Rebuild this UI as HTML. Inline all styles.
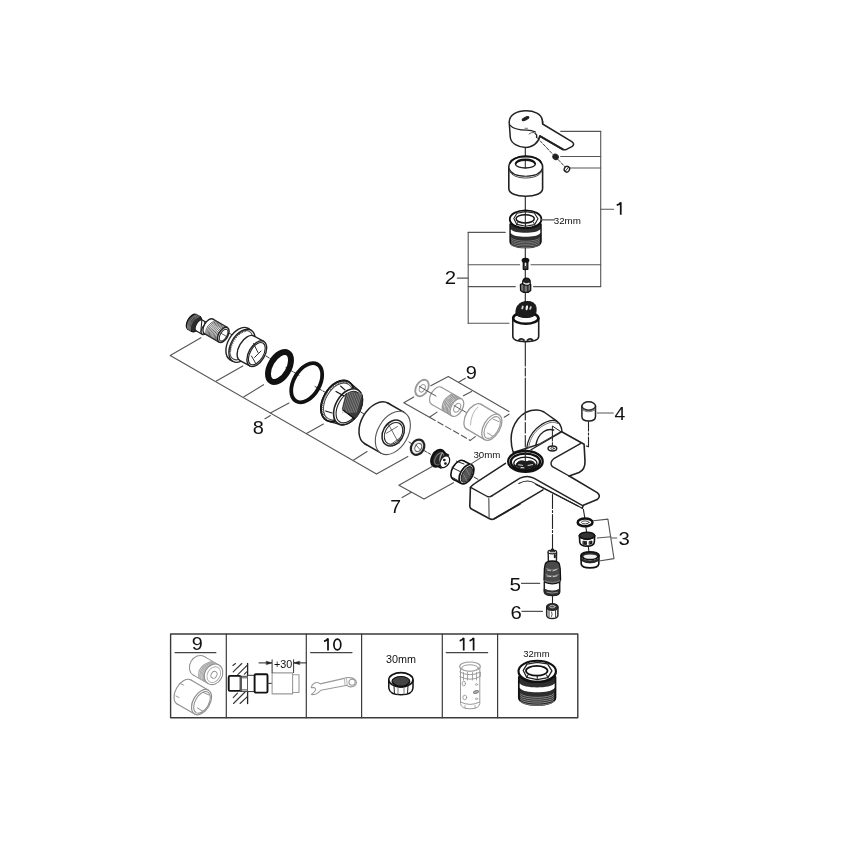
<!DOCTYPE html>
<html><head><meta charset="utf-8"><style>
html,body{margin:0;padding:0;background:#fff;}
svg{display:block;font-family:"Liberation Sans",sans-serif;will-change:transform;}
</style></head><body>
<svg width="868" height="868" viewBox="0 0 868 868" stroke-linecap="round" stroke-linejoin="round">
<rect width="868" height="868" fill="#fff"/>
<g id="table">
<path d="M170.6,634 L577.8,634 L577.8,717.7 L170.6,717.7 Z" stroke="#3a3a3a" stroke-width="1.4" fill="none" />
<line x1="226.3" y1="634" x2="226.3" y2="717.7" stroke="#3a3a3a" stroke-width="1.2" />
<line x1="306.3" y1="634" x2="306.3" y2="717.7" stroke="#3a3a3a" stroke-width="1.2" />
<line x1="361.6" y1="634" x2="361.6" y2="717.7" stroke="#3a3a3a" stroke-width="1.2" />
<line x1="442.3" y1="634" x2="442.3" y2="717.7" stroke="#3a3a3a" stroke-width="1.2" />
<line x1="497.6" y1="634" x2="497.6" y2="717.7" stroke="#3a3a3a" stroke-width="1.2" />
<text transform="translate(191.8,650) scale(1.1,1)" x="0" y="0" font-size="18" fill="#111" text-anchor="start" >9</text>
<line x1="175" y1="652.6" x2="215.9" y2="652.6" stroke="#444" stroke-width="1.2" />
<path d="M324.00,641.30 C326.00,640.70 327.40,639.60 328.00,638.40 L328.00,650.60" stroke="#111" stroke-width="1.75" fill="none" stroke-linecap="butt" stroke-linejoin="miter"/>
<ellipse cx="337.35" cy="644.5" rx="3.45" ry="5.45" stroke="#111" stroke-width="1.7" fill="none" />
<line x1="310.6" y1="652.6" x2="352" y2="652.6" stroke="#444" stroke-width="1.2" />
<path d="M459.70,640.80 C461.70,640.20 463.10,639.10 463.70,637.90 L463.70,650.40" stroke="#111" stroke-width="1.75" fill="none" stroke-linecap="butt" stroke-linejoin="miter"/>
<path d="M469.60,640.80 C471.60,640.20 473.00,639.10 473.60,637.90 L473.60,650.40" stroke="#111" stroke-width="1.75" fill="none" stroke-linecap="butt" stroke-linejoin="miter"/>
<line x1="446.2" y1="652.6" x2="487.7" y2="652.6" stroke="#444" stroke-width="1.2" />
<text x="385.9" y="663.4" font-size="10.8" fill="#111" text-anchor="start" >30mm</text>
<text x="523.3" y="656.5" font-size="9.5" fill="#111" text-anchor="start" >32mm</text>
</g>
<g id="lead12">
<line x1="560.7" y1="131.4" x2="600.7" y2="131.4" stroke="#555" stroke-width="1.1" />
<line x1="560.7" y1="156.5" x2="600.7" y2="156.5" stroke="#555" stroke-width="1.1" />
<line x1="569.5" y1="168" x2="600.7" y2="168" stroke="#555" stroke-width="1.1" />
<line x1="531" y1="264.7" x2="600.7" y2="264.7" stroke="#555" stroke-width="1.1" />
<line x1="533.5" y1="286.6" x2="600.7" y2="286.6" stroke="#555" stroke-width="1.1" />
<line x1="600.7" y1="131.4" x2="600.7" y2="286.6" stroke="#555" stroke-width="1.1" />
<line x1="600.7" y1="209.2" x2="613.5" y2="209.2" stroke="#555" stroke-width="1.1" />
<path d="M616.75,205.20 C618.75,204.60 620.15,203.50 620.75,202.30 L620.75,214.80" stroke="#111" stroke-width="1.75" fill="none" stroke-linecap="butt" stroke-linejoin="miter"/>
<line x1="468.2" y1="232.4" x2="468.2" y2="323.3" stroke="#555" stroke-width="1.1" />
<line x1="468.2" y1="232.4" x2="505.2" y2="232.4" stroke="#555" stroke-width="1.1" />
<line x1="468.2" y1="264.7" x2="519.6" y2="264.7" stroke="#555" stroke-width="1.1" />
<line x1="468.2" y1="286.6" x2="515.3" y2="286.6" stroke="#555" stroke-width="1.1" />
<line x1="468.2" y1="323.3" x2="509" y2="323.3" stroke="#555" stroke-width="1.1" />
<line x1="457.3" y1="278.1" x2="468.2" y2="278.1" stroke="#555" stroke-width="1.1" />
<text transform="translate(444.8,284) scale(1.1,1)" x="0" y="0" font-size="18.5" fill="#111" text-anchor="start" >2</text>
</g>
<line x1="525.3" y1="147.5" x2="525.3" y2="156" stroke="#222" stroke-width="1.1" />
<line x1="525.3" y1="196" x2="525.3" y2="210.5" stroke="#222" stroke-width="1.1" />
<line x1="525.3" y1="247" x2="525.3" y2="258.5" stroke="#222" stroke-width="1.1" />
<line x1="525.3" y1="270.3" x2="525.3" y2="278" stroke="#222" stroke-width="1.1" />
<line x1="525.3" y1="292.3" x2="525.3" y2="302" stroke="#222" stroke-width="1.1" />
<line x1="525.3" y1="341.5" x2="525.3" y2="366" stroke="#222" stroke-width="1.1" />
<line x1="525.3" y1="368" x2="525.3" y2="376" stroke="#222" stroke-width="1.1" />
<line x1="525.3" y1="378" x2="525.3" y2="459" stroke="#222" stroke-width="1.1" />
<g id="handle">
<path d="M509.2,122 C509.5,114.5 517,110.8 526,110.8 C534.5,110.8 541,114 542.2,119.5 L542.6,124 L571.8,141.6 Q575.2,144 572.3,146.4 L566.5,149.4 Q564.5,150.4 562,149 L539.8,136 C538.5,142.5 533,147.4 525.5,147.4 C518,147.4 511.2,143.5 510.3,137.5 Z" stroke="#222" stroke-width="1.5" fill="#fff" />
<path d="M509.6,124.8 C512.5,128.3 519,130 527,130.2 C530.5,130.4 533,131 535.5,132" stroke="#222" stroke-width="1.3" fill="none" />
<path d="M542.2,119.5 Q543.5,122 542.6,124" stroke="#222" stroke-width="1.2" fill="none" />
<ellipse cx="525.5" cy="118.6" rx="3.6" ry="1.3" stroke="#222" stroke-width="1.2" fill="#222" transform="rotate(-25 525.5 118.6)" />
<line x1="525" y1="128.3" x2="527.5" y2="128.3" stroke="#666" stroke-width="0.9" />
<line x1="540" y1="136.2" x2="562.5" y2="149.2" stroke="#222" stroke-width="2" />
<path d="M535,133.5 Q537.5,134.5 536.5,137.5" stroke="#222" stroke-width="1.3" fill="none" />
<path d="M529,134 Q531,132 534,132.5" stroke="#555" stroke-width="0.9" fill="none" />
</g>
<line x1="537" y1="137.5" x2="553" y2="154.5" stroke="#222" stroke-width="0.9" stroke-dasharray="3 1.6"/>
<line x1="558" y1="159.5" x2="565" y2="166.8" stroke="#222" stroke-width="0.9" stroke-dasharray="3 1.6"/>
<ellipse cx="555.6" cy="156.9" rx="2.9" ry="2.5" stroke="#222" stroke-width="1" fill="#222" transform="rotate(40 555.6 156.9)" />
<ellipse cx="566.9" cy="169.2" rx="2.6" ry="2.9" stroke="#222" stroke-width="1.4" fill="#fff" transform="rotate(30 566.9 169.2)" />
<line x1="565.5" y1="171" x2="568.3" y2="167.4" stroke="#222" stroke-width="0.9" />
<g id="sleeve">
<path d="M508.8,167 C508.8,160.9 516.4,156 525.7,156 C535,156 542.6,160.9 542.6,167 L542.6,188.5 C542.6,193.5 535,196.2 525.7,196.2 C516.4,196.2 508.8,193.5 508.8,188.5 Z" stroke="#222" stroke-width="1.6" fill="#fff" />
<path d="M509,168.5 C510.8,173.8 517.5,176.2 525.7,176.2 C533.9,176.2 540.6,173.8 542.4,168.5" stroke="#222" stroke-width="1.1" fill="none" />
<path d="M509.3,170.6 C511.2,175.6 517.8,178 525.7,178 C533.6,178 540.2,175.6 542.1,170.6" stroke="#444" stroke-width="1" fill="none" />
<ellipse cx="525.4" cy="164.2" rx="9.9" ry="3.8" stroke="#222" stroke-width="1.4" fill="none" />
<line x1="525.3" y1="159.5" x2="525.3" y2="168" stroke="#222" stroke-width="1" />
<path d="M515.7,163.6 C516.5,160.6 520.5,159.3 525.4,159.3 C530.3,159.3 534.3,160.6 535.1,163.6" stroke="#111" stroke-width="1.8" fill="none" />
<path d="M510,163 C512,158.5 518,156.6 525.7,156.6 C533.4,156.6 539.4,158.5 541.4,163" stroke="#111" stroke-width="1.6" fill="none" />
</g>
<g >
<path d="M510.1,224 L510.1,241.5 C510.3,245.5 517,247.6 525.5,247.6 C534,247.6 540.8,245.5 541,241.5 L541,224 Z" stroke="#111" stroke-width="1.5" fill="#2e2e2e" />
<path d="M510.8,229.3 C512.5,231.8 518.5,232.8 525.5,232.8 C532.5,232.8 538.5,231.8 540.3,229.3 L540.3,233 C538.5,235.8 532.5,236.8 525.5,236.8 C518.5,236.8 512.5,235.8 510.8,233 Z" stroke="none" stroke-width="0" fill="#fff" />
<path d="M511.5,238.3 C515,242.3 536,242.3 539.5,238.3" stroke="#999" stroke-width="0.7" fill="none" />
<path d="M511.5,239.9 C515,243.9 536,243.9 539.5,239.9" stroke="#999" stroke-width="0.7" fill="none" />
<path d="M511.5,241.5 C515,245.5 536,245.5 539.5,241.5" stroke="#999" stroke-width="0.7" fill="none" />
<path d="M511.5,243.1 C515,247.1 536,247.1 539.5,243.1" stroke="#999" stroke-width="0.7" fill="none" />
<path d="M511.5,244.7 C515,248.7 536,248.7 539.5,244.7" stroke="#999" stroke-width="0.7" fill="none" />
<ellipse cx="525.6" cy="219.2" rx="15.8" ry="8.9" stroke="#111" stroke-width="1.8" fill="#fff" />
<path d="M510,221 C511.5,226 518,228.4 525.6,228.4 C533.2,228.4 539.6,226 541.2,221" stroke="#111" stroke-width="1.3" fill="none" />
<path d="M513.8,218.5 L517,213.2 L525.5,211.6 L534.3,213 L538,218.8 L534.6,224.6 L525.6,226.3 L516.8,224.4 Z" stroke="#222" stroke-width="1.1" fill="#fff" />
<path d="M516.8,224.4 L518,222 M534.6,224.6 L533.5,222.3 M525.6,226.3 L525.6,223.2" stroke="#222" stroke-width="0.9" fill="none" />
<ellipse cx="525.2" cy="218.8" rx="9.1" ry="4.1" stroke="#111" stroke-width="1.5" fill="#fff" />
<line x1="525.3" y1="211" x2="525.3" y2="227" stroke="#222" stroke-width="1" />
</g>
<line x1="541.2" y1="219.9" x2="554.3" y2="219.9" stroke="#555" stroke-width="1.1" />
<text x="553.7" y="223.9" font-size="9.8" fill="#111" text-anchor="start" >32mm</text>
<g id="screw">
<ellipse cx="525.5" cy="260.3" rx="3.3" ry="2" stroke="#111" stroke-width="1.2" fill="#111" />
<path d="M523.3,262 L523.3,269.3 L527.8,269.3 L527.8,262 Z" stroke="#111" stroke-width="1.3" fill="#444" />
<path d="M525.5,263 L525.5,265.5" stroke="#eee" stroke-width="1.2" fill="none" />
</g>
<g id="hexnut">
<path d="M520.4,284.5 L520.6,290.5 L523.5,292.4 L528,292.4 L530.7,290.5 L530.7,284.5 L527.5,283 L523.5,283 Z" stroke="#111" stroke-width="1.3" fill="#777" />
<line x1="524" y1="284" x2="524" y2="292" stroke="#222" stroke-width="1.2" />
<line x1="527.8" y1="284" x2="527.8" y2="292" stroke="#222" stroke-width="1.2" />
<path d="M522.6,284 L522.8,281 Q523.5,278 526.5,278 Q529.5,278.2 530.2,281 L530.2,284 Q526.5,286.5 522.6,284 Z" stroke="#111" stroke-width="1.2" fill="#222" />
<path d="M523.8,283 Q526.5,285 529,283.3" stroke="#eee" stroke-width="1.4" fill="none" />
</g>
<g id="cartridge">
<path d="M512.8,318 L512.8,336.5 C513,340 519,341.6 525.75,341.6 C532.5,341.6 538.5,340 538.7,336.5 L538.7,318 Z" stroke="#222" stroke-width="1.6" fill="#fff" />
<ellipse cx="525.75" cy="318.2" rx="12.6" ry="5.6" stroke="#111" stroke-width="2.6" fill="#fff" />
<path d="M516,314.5 C515.5,309 517,304.5 522,302.5 C526,301 531,301 534,303.5 C536.5,305.5 536.5,310 535.5,314.5 C532,318.5 520,318.8 516,314.5 Z" stroke="#111" stroke-width="1" fill="#1c1c1c" />
<ellipse cx="522.5" cy="307.5" rx="1" ry="2" stroke="none" stroke-width="0" fill="#ddd" transform="rotate(15 522.5 307.5)" />
<ellipse cx="526.8" cy="307.8" rx="1.2" ry="2.6" stroke="none" stroke-width="0" fill="#eee" transform="rotate(10 526.8 307.8)" />
<ellipse cx="530.5" cy="308" rx="0.9" ry="2" stroke="none" stroke-width="0" fill="#ccc" transform="rotate(25 530.5 308)" />
<path d="M516.5,317 Q519,320 522,319.5" stroke="#eee" stroke-width="1.3" fill="none" />
<path d="M519,340 Q521.5,337.5 524,340.2 M527.5,340.2 Q530,337.5 532.5,340" stroke="#222" stroke-width="1.8" fill="none" />
</g>
<g id="body">
<path d="M513.2,452.4 C509.5,440 511,428 518,419 C524,411.5 531,409.8 537,410 C540,410.2 542,410.8 544,412 L556.5,420.8 C560,423.5 561.8,427 561.9,431.5 L540,444 Z" stroke="#222" stroke-width="1.5" fill="#fff" />
<path d="M505.5,463.4 L471.2,486.6 L471.2,487 L470.3,506.3 Q470.5,510 473,511 L491.8,519.2 L543,489.8 L552,494 L583.3,505.3 L597.2,499.6 Q601,496.5 597.2,492.6 L569.2,476 Q578,473 584,469 Q585.2,466 585,461 L584.1,444.3 L561.7,431.7 Z" stroke="none" stroke-width="0" fill="#fff" />
<path d="M526.7,448.7 C527.5,441 530.5,434 536.5,428.5 C540.5,424.8 545,422 549.5,420.8 C552.5,420 555.5,420.5 557.4,421.7" stroke="#222" stroke-width="1.2" fill="none" />
<path d="M528.6,448.2 C529.4,441 532.3,434.6 538,429.5 C541.8,426 546,423.6 550,422.6 C553,421.9 555.6,422.4 557.6,423.5" stroke="#666" stroke-width="0.9" fill="none" />
<path d="M535.7,445.7 C536.5,440.5 539,435 543.5,431.8 C546.5,429.7 550,428.8 553.7,430" stroke="#222" stroke-width="1.4" fill="none" />
<line x1="525.3" y1="414" x2="525.3" y2="420" stroke="#222" stroke-width="1.1" />
<line x1="525.3" y1="422.5" x2="525.3" y2="433" stroke="#222" stroke-width="1.1" />
<line x1="525.3" y1="435.5" x2="525.3" y2="447" stroke="#222" stroke-width="1.1" />
<line x1="531" y1="449.8" x2="561.2" y2="432.2" stroke="#222" stroke-width="1.3" />
<path d="M561.7,431.7 L584.1,444.3 L585,461.5 Q585.3,469.5 579,472.5 L569.2,476" stroke="#222" stroke-width="1.6" fill="none" />
<path d="M580.4,443.6 L554.3,458.3 Q548.8,462.5 552.4,466.7 L569.2,476" stroke="#222" stroke-width="1.4" fill="none" />
<path d="M552.4,436 L552.4,426 L560.8,431.7" stroke="#222" stroke-width="1" fill="none" />
<line x1="552.4" y1="437" x2="552.4" y2="446" stroke="#222" stroke-width="1" stroke-dasharray="4 1.6"/>
<ellipse cx="552.4" cy="448.5" rx="4.3" ry="2.4" stroke="#222" stroke-width="1.5" fill="#fff" />
<ellipse cx="552.4" cy="448.5" rx="1.8" ry="0.9" stroke="#222" stroke-width="0.8" fill="none" />
<path d="M505.5,463.4 L477.5,481.6 Q471.5,485.5 470.4,487.5" stroke="#222" stroke-width="1.5" fill="none" />
<path d="M470.4,487.5 L469.8,506.4 Q470,508.5 472,509.2 L489.6,518.8 Q491.8,520 494.2,518.8 L520,504" stroke="#222" stroke-width="1.6" fill="none" />
<path d="M470.6,487.4 L487.3,496.5 Q489.8,497.6 492.2,495.6" stroke="#222" stroke-width="1.4" fill="none" />
<line x1="488.8" y1="498.5" x2="489.1" y2="517.8" stroke="#555" stroke-width="1.2" />
<line x1="494.2" y1="518.8" x2="543" y2="489.8" stroke="#222" stroke-width="1.5" />
<path d="M492.2,495.6 L520,478.2 Q527,474.8 533.8,478.2 L582.2,505.3" stroke="#222" stroke-width="1.5" fill="none" />
<path d="M518.8,483.4 Q528,478.5 535,483.4 L582.2,508.2" stroke="#222" stroke-width="1.1" fill="none" />
<line x1="536" y1="484.5" x2="578" y2="506" stroke="#222" stroke-width="1.2" />
<path d="M569.2,476 L597.2,492.6 Q601.5,496 597.2,499.6 L583.3,505.3 L582.2,508.2" stroke="#222" stroke-width="1.6" fill="none" />
<ellipse cx="525.4" cy="461.4" rx="17.3" ry="10.4" stroke="#111" stroke-width="2.3" fill="#fff" />
<ellipse cx="525.4" cy="462" rx="14.6" ry="8.4" stroke="#111" stroke-width="2.4" fill="#fff" />
<ellipse cx="525.4" cy="463.3" rx="11.6" ry="6.2" stroke="#111" stroke-width="1.2" fill="#fff" />
<path d="M516,465.5 C516.5,461.5 520,460.5 523.5,461 C525,462 527,462 528.5,461 C532,460.5 535,462 535.5,465.5 C534,469.5 518,469.5 516,465.5 Z" stroke="#111" stroke-width="1" fill="#1e1e1e" />
<path d="M518.5,464.8 L522.5,465.3 M528,465.5 L532.5,464.6 M521,467.5 L524,467.8" stroke="#ddd" stroke-width="1" fill="none" />
<line x1="525.3" y1="450" x2="525.3" y2="466" stroke="#222" stroke-width="1.1" />
</g>
<g id="item4">
<path d="M581.9,406 L581.9,416.5 Q582,421 588.7,421 Q595.5,421 595.5,416.5 L595.5,406 Z" stroke="#222" stroke-width="1.5" fill="#fff" />
<ellipse cx="588.7" cy="406" rx="6.8" ry="4.2" stroke="#222" stroke-width="1.5" fill="#fff" />
<path d="M582.2,408.5 Q588.7,413 595.2,408.5 M582.3,409.8 Q588.7,414 595.1,409.8" stroke="#555" stroke-width="0.8" fill="none" />
</g>
<line x1="597.3" y1="413" x2="613.2" y2="413" stroke="#555" stroke-width="1.1" />
<text transform="translate(614.5,420) scale(1.05,1)" x="0" y="0" font-size="18.5" fill="#111" text-anchor="start" >4</text>
<line x1="588.5" y1="421.5" x2="588.5" y2="431" stroke="#222" stroke-width="1.1" />
<line x1="588.5" y1="433" x2="588.5" y2="435" stroke="#222" stroke-width="1.1" />
<line x1="588.5" y1="437" x2="588.5" y2="446.6" stroke="#222" stroke-width="1.1" />
<line x1="588.5" y1="446.6" x2="586.3" y2="446" stroke="#222" stroke-width="1.1" />
<line x1="583.4" y1="509.4" x2="584.8" y2="518" stroke="#222" stroke-width="1.1" />
<line x1="585.8" y1="526.4" x2="586.6" y2="532.3" stroke="#222" stroke-width="1.1" />
<line x1="588.2" y1="545.8" x2="589" y2="552.3" stroke="#222" stroke-width="1.1" />
<g id="item3">
<ellipse cx="585.1" cy="522.4" rx="7.4" ry="3.8" stroke="#111" stroke-width="2.5" fill="#fff" />
<ellipse cx="585.2" cy="522.4" rx="3.8" ry="1.5" stroke="#444" stroke-width="1" fill="#fff" />
<path d="M579.4,535.5 L579.8,542.3 Q580.5,546.1 587.1,546.1 Q593.8,546.1 594.3,542.3 L594.7,535.5 Z" stroke="#111" stroke-width="1.6" fill="#fff" />
<ellipse cx="587" cy="535.7" rx="7.7" ry="3.4" stroke="#111" stroke-width="1.6" fill="#333" />
<path d="M580.5,537.5 Q587,541.5 593.6,537.5" stroke="#111" stroke-width="1.3" fill="none" />
<path d="M583.3,541.2 L586.5,541.6 L586.5,544.6 L583.3,544.2 Z M589.5,541.5 L592,541 L592,543.8 L589.5,544.3 Z" stroke="#111" stroke-width="0.8" fill="#222" />
<path d="M581,555.5 L581.2,564 Q582,567.9 590,567.9 Q598,567.9 598.8,564 L599,555.5 Z" stroke="#111" stroke-width="1.6" fill="#fff" />
<ellipse cx="590" cy="555.6" rx="9" ry="3.8" stroke="#111" stroke-width="1.8" fill="#2e2e2e" />
<ellipse cx="590.2" cy="556.6" rx="6.8" ry="2.2" stroke="none" stroke-width="0" fill="#eee" />
<path d="M581.2,558.5 Q590,563.5 598.8,558.5 L598.8,560.5 Q590,565.5 581.2,560.5 Z" stroke="#111" stroke-width="0.8" fill="#2e2e2e" />
</g>
<path d="M593.4,520.7 L607.9,519.1 L614,558.6 L599,561" stroke="#555" stroke-width="1.1" fill="none" />
<line x1="597.4" y1="538" x2="610.8" y2="536.8" stroke="#555" stroke-width="1.1" />
<line x1="611.5" y1="538" x2="616.8" y2="538" stroke="#555" stroke-width="1.1" />
<text transform="translate(618.6,544.5) scale(1.1,1)" x="0" y="0" font-size="18.5" fill="#111" text-anchor="start" >3</text>
<line x1="552.5" y1="494.5" x2="552.5" y2="548.4" stroke="#222" stroke-width="1.1" stroke-dasharray="14 2 2 2"/>
<g id="item5">
<path d="M548.2,552.5 L548.4,563 L556.4,563 L556.6,552.5 Z" stroke="#222" stroke-width="1.4" fill="#fff" />
<ellipse cx="552.3" cy="552" rx="4.3" ry="1.8" stroke="#222" stroke-width="1.2" fill="#fff" />
<path d="M550.2,551.5 L552.5,548 L554.7,551.5 Z" stroke="#222" stroke-width="1" fill="#222" />
<line x1="554.8" y1="555" x2="554.8" y2="557.2" stroke="#222" stroke-width="2" />
<path d="M544.3,582 L544.3,592 Q545,595.5 552.3,595.5 Q559.6,595.5 559.7,592 L559.7,582 Z" stroke="#222" stroke-width="1.5" fill="#fff" />
<path d="M545,565 Q545.5,561 552.3,561 Q559.1,561 559.6,565 L560.2,568.5 L560.6,580 Q560,583.8 552.3,583.8 Q544.6,583.8 544,580 L544.4,568.5 Z" stroke="#111" stroke-width="1.3" fill="#4a4a4a" />
<path d="M546.5,568.5 Q552.3,571 558,568.5 M546,574.5 Q552.3,577.2 558.6,574.5" stroke="#777" stroke-width="1.1" fill="none" />
<path d="M547.5,570 L550.5,570.6 M553,570.8 L556.5,569.6 M547,576 L551,576.6 M553.2,576.7 L557,575.8" stroke="#ccc" stroke-width="1" fill="none" />
<path d="M544.6,580.8 Q552.3,584 560,580.8" stroke="#888" stroke-width="0.9" fill="none" />
<path d="M544.5,589.3 Q552.3,593 559.5,589.3 L559.5,592 Q559,595.5 552.3,595.5 Q545.5,595.5 544.5,592 Z" stroke="#222" stroke-width="1" fill="#333" />
<path d="M547,592.3 Q552.3,594 557.5,592.3" stroke="#aaa" stroke-width="0.8" fill="none" />
</g>
<line x1="552.5" y1="596" x2="552.5" y2="603.5" stroke="#222" stroke-width="1.1" />
<line x1="521.5" y1="583.4" x2="539.7" y2="583.4" stroke="#555" stroke-width="1.1" />
<text transform="translate(509.6,590.8) scale(1.12,1)" x="0" y="0" font-size="18.5" fill="#111" text-anchor="start" >5</text>
<g id="item6">
<path d="M546.7,607 L546.7,615.5 Q547,618.5 552.3,618.5 Q557.6,618.5 557.9,615.5 L557.9,607 Z" stroke="#222" stroke-width="1.5" fill="#fff" />
<ellipse cx="552.3" cy="607" rx="5.6" ry="3.3" stroke="#222" stroke-width="1.5" fill="#333" />
<ellipse cx="552.3" cy="606.6" rx="2.8" ry="1.3" stroke="#ccc" stroke-width="0.8" fill="#555" />
<line x1="549" y1="609.5" x2="549" y2="617" stroke="#222" stroke-width="0.9" />
<line x1="555.6" y1="609.5" x2="555.6" y2="617" stroke="#222" stroke-width="0.9" />
<path d="M551.6,612 Q552.8,614.5 551.6,616.5" stroke="#222" stroke-width="0.8" fill="none" />
</g>
<line x1="521.9" y1="611.4" x2="542.5" y2="611.4" stroke="#555" stroke-width="1.1" />
<text transform="translate(510.6,619) scale(1.1,1)" x="0" y="0" font-size="18.5" fill="#111" text-anchor="start" >6</text>
<g id="lead8">
<path d="M200.9,337.7 L170.2,355.4 L376.5,474.1 L407.9,456.5" stroke="#555" stroke-width="1.1" fill="none" />
<line x1="216.4" y1="381" x2="242.8" y2="365.9" stroke="#555" stroke-width="1.1" />
<line x1="244" y1="396.7" x2="263.5" y2="384.7" stroke="#555" stroke-width="1.1" />
<line x1="270.4" y1="413" x2="289" y2="403" stroke="#555" stroke-width="1.1" />
<line x1="306.5" y1="433.6" x2="323.4" y2="424.1" stroke="#555" stroke-width="1.1" />
<line x1="353.3" y1="460.3" x2="367.1" y2="451.5" stroke="#555" stroke-width="1.1" />
<line x1="265" y1="418.8" x2="270.4" y2="415.5" stroke="#555" stroke-width="1.1" />
<text transform="translate(252.7,433.6) scale(1.08,1)" x="0" y="0" font-size="18.5" fill="#111" text-anchor="start" >8</text>
</g>
<line x1="229" y1="333" x2="248" y2="344" stroke="#222" stroke-width="0.9" />
<line x1="266" y1="356" x2="273" y2="360.3" stroke="#222" stroke-width="0.9" stroke-dasharray="3 1.5"/>
<line x1="286" y1="367.7" x2="299" y2="375.2" stroke="#222" stroke-width="0.9" stroke-dasharray="3 1.5"/>
<line x1="315" y1="386.5" x2="330" y2="395" stroke="#222" stroke-width="0.9" stroke-dasharray="3 1.5"/>
<line x1="356" y1="409" x2="364" y2="414" stroke="#222" stroke-width="0.9" />
<line x1="409" y1="442" x2="412.5" y2="444.3" stroke="#222" stroke-width="0.9" />
<line x1="424" y1="450.5" x2="431" y2="454.5" stroke="#222" stroke-width="0.9" stroke-dasharray="3 1.5"/>
<line x1="474" y1="477" x2="478" y2="479.3" stroke="#222" stroke-width="0.9" />
<g id="item8">
<ellipse cx="192" cy="321.8" rx="4.5" ry="8.5" stroke="#111" stroke-width="1.2" fill="#2e2e2e" transform="rotate(30 192 321.8)" />
<path d="M196.25,314.44 L200.25,316.74 L191.75,331.46 L187.75,329.16 Z" stroke="none" stroke-width="0" fill="#2e2e2e" />
<line x1="196.25" y1="314.44" x2="200.25" y2="316.74" stroke="#111" stroke-width="1.2" />
<line x1="187.75" y1="329.16" x2="191.75" y2="331.46" stroke="#111" stroke-width="1.2" />
<ellipse cx="196" cy="324.1" rx="4.5" ry="8.5" stroke="#111" stroke-width="1.2" fill="#2e2e2e" transform="rotate(30 196 324.1)" />
<path d="M196.4,314.6 Q186.8,318.7 187.2,328.8" stroke="#999" stroke-width="0.7" fill="none" />
<path d="M197.4,315.1 Q187.8,319.3 188.2,329.4" stroke="#999" stroke-width="0.7" fill="none" />
<path d="M198.4,315.7 Q188.8,319.8 189.2,330.0" stroke="#999" stroke-width="0.7" fill="none" />
<path d="M199.4,316.3 Q189.8,320.4 190.2,330.6" stroke="#999" stroke-width="0.7" fill="none" />
<ellipse cx="199.5" cy="325.6" rx="3.4" ry="6.2" stroke="#222" stroke-width="1.2" fill="#fff" transform="rotate(30 199.5 325.6)" />
<path d="M202.57,320.22 L208.57,323.62 L202.43,334.38 L196.43,330.98 Z" stroke="none" stroke-width="0" fill="#fff" />
<line x1="202.57" y1="320.22" x2="208.57" y2="323.62" stroke="#222" stroke-width="1.2" />
<line x1="196.43" y1="330.98" x2="202.43" y2="334.38" stroke="#222" stroke-width="1.2" />
<ellipse cx="205.5" cy="329" rx="3.4" ry="6.2" stroke="#222" stroke-width="1.2" fill="#fff" transform="rotate(30 205.5 329)" />
<path d="M201.8,320.5 L200.8,332 M204.8,322 L203.8,333.5" stroke="#222" stroke-width="1.1" fill="none" />
<ellipse cx="208.7" cy="326.4" rx="4.6" ry="8.4" stroke="#222" stroke-width="1.3" fill="#fff" transform="rotate(30 208.7 326.4)" />
<path d="M212.9,319.13 L227.5,327.53 L219.1,342.07 L204.5,333.67 Z" stroke="none" stroke-width="0" fill="#fff" />
<line x1="212.9" y1="319.13" x2="227.5" y2="327.53" stroke="#222" stroke-width="1.3" />
<line x1="204.5" y1="333.67" x2="219.1" y2="342.07" stroke="#222" stroke-width="1.3" />
<path d="M215.3,320.7 Q205.0,324.5 205.7,334.3" stroke="#444" stroke-width="0.8" fill="none" />
<path d="M216.5,321.4 Q206.2,325.2 206.9,335.0" stroke="#444" stroke-width="0.8" fill="none" />
<path d="M217.7,322.1 Q207.4,325.9 208.1,335.6" stroke="#444" stroke-width="0.8" fill="none" />
<path d="M218.9,322.8 Q208.6,326.6 209.3,336.3" stroke="#444" stroke-width="0.8" fill="none" />
<path d="M220.1,323.5 Q209.8,327.3 210.5,337.0" stroke="#444" stroke-width="0.8" fill="none" />
<path d="M221.3,324.2 Q211.0,327.9 211.7,337.7" stroke="#444" stroke-width="0.8" fill="none" />
<path d="M222.5,324.9 Q212.2,328.6 212.9,338.4" stroke="#444" stroke-width="0.8" fill="none" />
<path d="M223.7,325.6 Q213.4,329.3 214.1,339.1" stroke="#444" stroke-width="0.8" fill="none" />
<path d="M224.9,326.3 Q214.6,330.0 215.3,339.8" stroke="#444" stroke-width="0.8" fill="none" />
<path d="M226.1,326.9 Q215.8,330.7 216.5,340.5" stroke="#444" stroke-width="0.8" fill="none" />
<ellipse cx="223.3" cy="334.8" rx="4.6" ry="8.4" stroke="#222" stroke-width="1.5" fill="#fff" transform="rotate(30 223.3 334.8)" />
<ellipse cx="223.6" cy="335.1" rx="3.3" ry="6.6" stroke="#222" stroke-width="1" fill="#fff" transform="rotate(30 223.6 335.1)" />
<line x1="220.8" y1="333" x2="226.5" y2="336.5" stroke="#333" stroke-width="0.8" />
<ellipse cx="239" cy="344" rx="11" ry="18" stroke="#222" stroke-width="1.4" fill="#fff" transform="rotate(30 239 344)" />
<path d="M248.08,328.46 L251.08,330.26 L232.92,361.34 L229.92,359.54 Z" stroke="none" stroke-width="0" fill="#fff" />
<line x1="248.08" y1="328.46" x2="251.08" y2="330.26" stroke="#222" stroke-width="1.4" />
<line x1="229.92" y1="359.54" x2="232.92" y2="361.34" stroke="#222" stroke-width="1.4" />
<ellipse cx="242" cy="345.8" rx="11" ry="18" stroke="#222" stroke-width="1.4" fill="#fff" transform="rotate(30 242 345.8)" />
<ellipse cx="241.3" cy="345.2" rx="9.4" ry="16" stroke="#444" stroke-width="1" fill="none" transform="rotate(30 241.3 345.2)" />
<line x1="228.92" y1="351.61" x2="230.82" y2="351.07" stroke="#333" stroke-width="0.8" />
<line x1="229.15" y1="349.4" x2="231.06" y2="349.15" stroke="#333" stroke-width="0.8" />
<line x1="229.64" y1="347.12" x2="231.51" y2="347.16" stroke="#333" stroke-width="0.8" />
<line x1="230.36" y1="344.81" x2="232.16" y2="345.15" stroke="#333" stroke-width="0.8" />
<line x1="231.31" y1="342.52" x2="233.01" y2="343.15" stroke="#333" stroke-width="0.8" />
<line x1="232.47" y1="340.3" x2="234.03" y2="341.2" stroke="#333" stroke-width="0.8" />
<line x1="233.82" y1="338.18" x2="235.21" y2="339.34" stroke="#333" stroke-width="0.8" />
<line x1="235.32" y1="336.22" x2="236.52" y2="337.61" stroke="#333" stroke-width="0.8" />
<line x1="236.96" y1="334.44" x2="237.93" y2="336.03" stroke="#333" stroke-width="0.8" />
<line x1="238.69" y1="332.88" x2="239.43" y2="334.65" stroke="#333" stroke-width="0.8" />
<line x1="240.49" y1="331.57" x2="240.97" y2="333.48" stroke="#333" stroke-width="0.8" />
<line x1="242.31" y1="330.54" x2="242.54" y2="332.55" stroke="#333" stroke-width="0.8" />
<line x1="244.13" y1="329.8" x2="244.09" y2="331.88" stroke="#333" stroke-width="0.8" />
<line x1="245.91" y1="329.38" x2="245.61" y2="331.49" stroke="#333" stroke-width="0.8" />
<ellipse cx="247" cy="348.3" rx="8" ry="14.1" stroke="#222" stroke-width="1.4" fill="#fff" transform="rotate(30 247 348.3)" />
<path d="M253.99,336.05 L263.79,341.45 L249.81,365.95 L240.01,360.55 Z" stroke="none" stroke-width="0" fill="#fff" />
<line x1="253.99" y1="336.05" x2="263.79" y2="341.45" stroke="#222" stroke-width="1.4" />
<line x1="240.01" y1="360.55" x2="249.81" y2="365.95" stroke="#222" stroke-width="1.4" />
<ellipse cx="256.8" cy="353.7" rx="8" ry="14.1" stroke="#222" stroke-width="1.4" fill="#fff" transform="rotate(30 256.8 353.7)" />
<ellipse cx="256.8" cy="353.7" rx="6.6" ry="12.3" stroke="#222" stroke-width="1.1" fill="#fff" transform="rotate(30 256.8 353.7)" />
<path d="M253.5,343.5 L258,352.5 M261,351 L254.5,357.5 M251.5,356 L256,364" stroke="#333" stroke-width="1" fill="none" />
<ellipse cx="279.5" cy="367" rx="9.3" ry="16.5" stroke="#111" stroke-width="5.9" fill="none" transform="rotate(30 279.5 367)" />
<ellipse cx="306.7" cy="382.7" rx="13" ry="21.3" stroke="#111" stroke-width="3.8" fill="none" transform="rotate(30 306.7 382.7)" />
<path d="M320.93,408.59 L320.94,407.92 L320.98,407.24 L321.03,406.56 L321.1,405.87 L321.19,405.17 L321.3,404.46 L321.43,403.76 L321.58,403.05 L321.75,402.33 L321.94,401.62 L322.15,400.9 L322.37,400.19 L322.62,399.47 L322.88,398.76 L323.16,398.05 L323.46,397.35 L323.78,396.64 L324.11,395.95 L324.46,395.26 L324.82,394.57 L325.2,393.9 L325.6,393.23 L326.01,392.58 L326.43,391.93 L326.87,391.29 L327.32,390.67 L327.78,390.06 L328.25,389.46 L328.74,388.88 L329.23,388.31 L329.74,387.75 L330.26,387.21 L330.78,386.69 L331.31,386.19 L331.85,385.7 L332.4,385.24 L332.95,384.79 L333.51,384.36 L334.07,383.95 L334.64,383.57 L335.21,383.2 L335.79,382.86 L336.37,382.54 L336.94,382.24 L337.52,381.96 L338.1,381.71 L338.68,381.48 L339.25,381.27 L339.83,381.09 L340.4,380.93 L340.96,380.8 L341.53,380.69 L342.09,380.61 L342.64,380.55 L343.19,380.51 L343.73,380.5 L344.26,380.52 L344.78,380.56 L345.3,380.63 L345.8,380.72 L346.3,380.83 L346.78,380.97 L347.25,381.14 L347.71,381.33 L348.16,381.54 L348.6,381.77 L349.02,382.03 L349.43,382.32 L349.82,382.62 L350.2,382.95 L359.14,390.93 L359.45,391.24 L359.75,391.56 L360.04,391.9 L360.31,392.26 L360.56,392.64 L360.81,393.03 L361.03,393.45 L361.24,393.87 L361.43,394.32 L361.61,394.78 L361.77,395.25 L361.91,395.74 L362.04,396.24 L362.15,396.75 L362.24,397.28 L362.32,397.82 L362.37,398.37 L362.41,398.92 L362.44,399.49 L362.44,400.07 L362.43,400.66 L362.4,401.25 L362.35,401.85 L362.28,402.45 L362.2,403.07 L362.1,403.68 L361.98,404.3 L361.85,404.93 L361.7,405.55 L361.53,406.18 L361.34,406.8 L361.14,407.43 L360.93,408.06 L360.69,408.68 L360.45,409.31 L360.18,409.92 L359.9,410.54 L359.61,411.15 L359.31,411.76 L358.99,412.36 L358.65,412.95 L358.31,413.54 L357.95,414.11 L357.57,414.68 L357.19,415.24 L356.8,415.79 L356.39,416.33 L355.98,416.85 L355.55,417.37 L355.12,417.87 L354.68,418.36 L354.22,418.83 L353.77,419.29 L353.3,419.73 L352.83,420.16 L352.35,420.57 L351.87,420.96 L351.38,421.34 L350.89,421.7 L350.39,422.04 L349.89,422.37 L349.39,422.67 L348.89,422.95 L348.39,423.22 L347.88,423.46 L347.38,423.69 L346.88,423.89 L346.37,424.08 L345.87,424.24 L345.38,424.38 L344.88,424.5 L344.39,424.6 L343.91,424.67 L343.43,424.73 L342.95,424.76 L342.48,424.77 L342.02,424.76 L341.56,424.73 L341.12,424.67 L340.68,424.6 L340.25,424.5 L339.83,424.38 L328.7,421.17 L328.22,421.03 L327.75,420.86 L327.29,420.67 L326.84,420.46 L326.4,420.23 L325.98,419.97 L325.57,419.68 L325.18,419.38 L324.8,419.05 L324.43,418.7 L324.09,418.33 L323.75,417.94 L323.44,417.52 L323.14,417.09 L322.86,416.64 L322.6,416.17 L322.36,415.68 L322.13,415.17 L321.93,414.64 L321.74,414.1 L321.57,413.54 L321.42,412.97 L321.29,412.38 L321.18,411.78 L321.09,411.16 L321.02,410.54 L320.97,409.9 L320.94,409.25 Z" stroke="#222" stroke-width="1.5" fill="#fff" />
<ellipse cx="337.5" cy="401" rx="14.2" ry="22.2" stroke="#111" stroke-width="1.9" fill="none" transform="rotate(30 337.5 401)" />
<ellipse cx="338.2" cy="401.4" rx="12.4" ry="20" stroke="#444" stroke-width="0.9" fill="none" transform="rotate(30 338.2 401.4)" />
<line x1="325.37" y1="419.53" x2="326.72" y2="417.55" stroke="#333" stroke-width="0.8" />
<line x1="324.17" y1="418.42" x2="325.69" y2="416.59" stroke="#333" stroke-width="0.8" />
<line x1="323.14" y1="417.09" x2="324.82" y2="415.42" stroke="#333" stroke-width="0.8" />
<line x1="322.3" y1="415.55" x2="324.11" y2="414.07" stroke="#333" stroke-width="0.8" />
<line x1="321.65" y1="413.82" x2="323.57" y2="412.56" stroke="#333" stroke-width="0.8" />
<line x1="321.21" y1="411.93" x2="323.21" y2="410.89" stroke="#333" stroke-width="0.8" />
<line x1="320.97" y1="409.9" x2="323.04" y2="409.1" stroke="#333" stroke-width="0.8" />
<line x1="320.95" y1="407.75" x2="323.05" y2="407.2" stroke="#333" stroke-width="0.8" />
<line x1="321.14" y1="405.52" x2="323.25" y2="405.22" stroke="#333" stroke-width="0.8" />
<line x1="321.54" y1="403.22" x2="323.63" y2="403.19" stroke="#333" stroke-width="0.8" />
<line x1="322.15" y1="400.9" x2="324.19" y2="401.13" stroke="#333" stroke-width="0.8" />
<line x1="322.95" y1="398.58" x2="324.92" y2="399.07" stroke="#333" stroke-width="0.8" />
<line x1="323.94" y1="396.3" x2="325.81" y2="397.04" stroke="#333" stroke-width="0.8" />
<line x1="325.11" y1="394.07" x2="326.85" y2="395.05" stroke="#333" stroke-width="0.8" />
<line x1="326.43" y1="391.93" x2="328.03" y2="393.14" stroke="#333" stroke-width="0.8" />
<line x1="327.9" y1="389.91" x2="329.33" y2="391.33" stroke="#333" stroke-width="0.8" />
<line x1="329.49" y1="388.03" x2="330.73" y2="389.65" stroke="#333" stroke-width="0.8" />
<line x1="331.18" y1="386.31" x2="332.23" y2="388.11" stroke="#333" stroke-width="0.8" />
<line x1="332.95" y1="384.79" x2="333.79" y2="386.74" stroke="#333" stroke-width="0.8" />
<line x1="334.79" y1="383.48" x2="335.39" y2="385.55" stroke="#333" stroke-width="0.8" />
<line x1="336.65" y1="382.38" x2="337.03" y2="384.56" stroke="#333" stroke-width="0.8" />
<line x1="338.53" y1="381.53" x2="338.67" y2="383.78" stroke="#333" stroke-width="0.8" />
<line x1="340.4" y1="380.93" x2="340.3" y2="383.23" stroke="#333" stroke-width="0.8" />
<line x1="342.22" y1="380.59" x2="341.89" y2="382.9" stroke="#333" stroke-width="0.8" />
<line x1="343.99" y1="380.51" x2="343.42" y2="382.8" stroke="#333" stroke-width="0.8" />
<line x1="345.68" y1="380.69" x2="344.88" y2="382.94" stroke="#333" stroke-width="0.8" />
<line x1="347.25" y1="381.14" x2="346.24" y2="383.31" stroke="#333" stroke-width="0.8" />
<line x1="348.71" y1="381.84" x2="347.49" y2="383.91" stroke="#333" stroke-width="0.8" />
<path d="M340.5,386 L345,390 M325.5,411 L332,413 M342,410 L354,419" stroke="#222" stroke-width="1.1" fill="none" />
<ellipse cx="348" cy="406.8" rx="12.3" ry="19.5" stroke="#222" stroke-width="1.6" fill="#fff" transform="rotate(30 348 406.8)" />
<ellipse cx="348.5" cy="407.1" rx="10.4" ry="17.2" stroke="#222" stroke-width="1.1" fill="#fff" transform="rotate(30 348.5 407.1)" />
<path d="M346,394 C350,392.3 355.5,391.5 358.7,392.8 C361.5,396 362,399 361.9,402.2 C361.3,408 360,412.5 357.5,416 C356.2,417.5 355.5,418.3 354.3,418.7 L342.2,409.2 C343.5,404 344.5,399 346,394 Z" stroke="#222" stroke-width="0.6" fill="#3a3a3a" />
<path d="M348.0,392.8 L342.5,413.0" stroke="#aaa" stroke-width="0.6" fill="none" />
<path d="M349.7,392.9 L344.2,412.9" stroke="#aaa" stroke-width="0.6" fill="none" />
<path d="M351.4,393.0 L345.9,412.8" stroke="#aaa" stroke-width="0.6" fill="none" />
<path d="M353.1,393.1 L347.6,412.7" stroke="#aaa" stroke-width="0.6" fill="none" />
<path d="M354.8,393.2 L349.3,412.6" stroke="#aaa" stroke-width="0.6" fill="none" />
<path d="M356.5,393.3 L351.0,412.5" stroke="#aaa" stroke-width="0.6" fill="none" />
<path d="M358.2,393.4 L352.7,412.4" stroke="#aaa" stroke-width="0.6" fill="none" />
<path d="M359.9,393.5 L354.4,412.3" stroke="#aaa" stroke-width="0.6" fill="none" />
<path d="M361.6,393.6 L356.1,412.2" stroke="#aaa" stroke-width="0.6" fill="none" />
<path d="M343,410 L354.5,418.8 M336,391.5 L344,396" stroke="#111" stroke-width="1.2" fill="none" />
</g>
<g id="rosette">
<ellipse cx="376.5" cy="423.5" rx="15.1" ry="23.4" stroke="#222" stroke-width="1.5" fill="#fff" transform="rotate(30 376.5 423.5)" />
<path d="M388.2,403.24 L404.55,412.69 L381.15,453.21 L364.8,443.76 Z" stroke="none" stroke-width="0" fill="#fff" />
<line x1="388.2" y1="403.24" x2="404.55" y2="412.69" stroke="#222" stroke-width="1.5" />
<line x1="364.8" y1="443.76" x2="381.15" y2="453.21" stroke="#222" stroke-width="1.5" />
<ellipse cx="392.85" cy="432.95" rx="15.1" ry="23.4" stroke="#555" stroke-width="1.1" fill="#fff" transform="rotate(30 392.85 432.95)" />
<ellipse cx="393.2" cy="433" rx="10.2" ry="13.8" stroke="#222" stroke-width="1.5" fill="#fff" transform="rotate(30 393.2 433)" />
<ellipse cx="393.5" cy="433.3" rx="8.3" ry="11.6" stroke="#222" stroke-width="1" fill="#fff" transform="rotate(30 393.5 433.3)" />
<path d="M388,423.5 L399,443.5 M386,433.5 L397.5,426.5 M391.5,444 L401,437" stroke="#444" stroke-width="0.8" fill="none" />
</g>
<g id="item7">
<ellipse cx="417.6" cy="447.2" rx="6.3" ry="8" stroke="#222" stroke-width="2.2" fill="#eee" transform="rotate(30 417.6 447.2)" />
<ellipse cx="418.3" cy="447.5" rx="3.2" ry="4.3" stroke="#555" stroke-width="1" fill="#fff" transform="rotate(30 418.3 447.5)" />
<path d="M416,445 L420,449.5" stroke="#444" stroke-width="0.8" fill="none" />
<ellipse cx="438" cy="457.8" rx="5.2" ry="7.6" stroke="#111" stroke-width="1.3" fill="#2a2a2a" transform="rotate(30 438 457.8)" />
<path d="M441.8,451.22 L448.6,455.12 L441,468.28 L434.2,464.38 Z" stroke="none" stroke-width="0" fill="#2a2a2a" />
<line x1="441.8" y1="451.22" x2="448.6" y2="455.12" stroke="#111" stroke-width="1.3" />
<line x1="434.2" y1="464.38" x2="441" y2="468.28" stroke="#111" stroke-width="1.3" />
<ellipse cx="438" cy="458.2" rx="5.8" ry="8.8" stroke="#111" stroke-width="2.6" fill="#2a2a2a" transform="rotate(30 438 458.2)" />
<ellipse cx="439.3" cy="458.9" rx="4" ry="6.6" stroke="#777" stroke-width="1" fill="#2a2a2a" transform="rotate(30 439.3 458.9)" />
<path d="M442.3,452.8 Q438.3,458.5 440.8,465.8" stroke="#aaa" stroke-width="1.2" fill="none" />
<ellipse cx="444.8" cy="461.7" rx="4.3" ry="6.3" stroke="#111" stroke-width="1.2" fill="#fff" transform="rotate(30 444.8 461.7)" />
<ellipse cx="444.3" cy="460" rx="1.4" ry="1.3" stroke="none" stroke-width="0" fill="#222" />
<ellipse cx="445.4" cy="463.6" rx="1.4" ry="1.3" stroke="none" stroke-width="0" fill="#222" />
<ellipse cx="458.3" cy="470" rx="6" ry="10.6" stroke="#111" stroke-width="1.6" fill="#fff" transform="rotate(30 458.3 470)" />
<path d="M463.46,460.74 L471.66,464.94 L461.34,483.46 L453.14,479.26 Z" stroke="none" stroke-width="0" fill="#fff" />
<line x1="463.46" y1="460.74" x2="471.66" y2="464.94" stroke="#111" stroke-width="1.6" />
<line x1="453.14" y1="479.26" x2="461.34" y2="483.46" stroke="#111" stroke-width="1.6" />
<line x1="452" y1="467.5" x2="460" y2="471.5" stroke="#222" stroke-width="1" />
<line x1="452.5" y1="477.5" x2="460.5" y2="482" stroke="#222" stroke-width="1" />
<line x1="456.5" y1="461.2" x2="464" y2="464" stroke="#222" stroke-width="1" />
<ellipse cx="466.5" cy="474.2" rx="6" ry="10.6" stroke="#111" stroke-width="1.7" fill="#fff" transform="rotate(30 466.5 474.2)" />
<ellipse cx="466.8" cy="474.4" rx="4.3" ry="8.6" stroke="#222" stroke-width="1" fill="#555" transform="rotate(30 466.8 474.4)" />
<path d="M465.5,468 L469.5,475 M463.5,474.5 L467,481" stroke="#888" stroke-width="0.8" fill="none" />
</g>
<line x1="480.2" y1="458.1" x2="470.3" y2="464.4" stroke="#555" stroke-width="1.1" />
<text x="473.4" y="457.5" font-size="9.7" fill="#111" text-anchor="start" >30mm</text>
<path d="M432.2,466.4 L398.9,485.3 L424,499 L453.5,482.7" stroke="#555" stroke-width="1.1" fill="none" />
<line x1="402.1" y1="497.6" x2="411.3" y2="492.3" stroke="#555" stroke-width="1.1" />
<text transform="translate(390.2,513.2) scale(1.05,1)" x="0" y="0" font-size="18.5" fill="#111" text-anchor="start" >7</text>
<g id="lead9">
<path d="M430.8,385.8 L448.3,376.6 L509,411.5" stroke="#555" stroke-width="1.1" fill="none" />
<line x1="459" y1="382" x2="465.3" y2="378.2" stroke="#555" stroke-width="1.1" />
<text transform="translate(465.8,378.7) scale(1.08,1)" x="0" y="0" font-size="18.5" fill="#111" text-anchor="start" >9</text>
<path d="M413.8,397 L403.8,402.7 L429.5,417.2" stroke="#555" stroke-width="1.1" fill="none" />
<line x1="429.5" y1="417.2" x2="437" y2="412.1" stroke="#555" stroke-width="1.1" />
<line x1="430" y1="417.5" x2="470.3" y2="440.4" stroke="#555" stroke-width="1.1" stroke-dasharray="6 3"/>
<line x1="470.3" y1="440.4" x2="475.3" y2="436.6" stroke="#555" stroke-width="1.1" />
<line x1="463.4" y1="395.8" x2="471.6" y2="391.4" stroke="#555" stroke-width="1.1" />
<line x1="504.2" y1="417.2" x2="509" y2="414.2" stroke="#555" stroke-width="1.1" />
</g>
<g id="item9">
<ellipse cx="422" cy="388" rx="5.9" ry="8.9" stroke="#999" stroke-width="1.8" fill="#fff" transform="rotate(30 422 388)" />
<ellipse cx="422.3" cy="388.3" rx="2.6" ry="4" stroke="#999" stroke-width="1" fill="#fff" transform="rotate(30 422.3 388.3)" />
<line x1="419.5" y1="386.5" x2="429" y2="392" stroke="#444" stroke-width="0.9" />
<ellipse cx="436.4" cy="395.7" rx="5.6" ry="9.8" stroke="#999" stroke-width="1.2" fill="#fff" transform="rotate(30 436.4 395.7)" />
<path d="M441.3,387.21 L461.8,399.01 L452,415.99 L431.5,404.19 Z" stroke="none" stroke-width="0" fill="#fff" />
<line x1="441.3" y1="387.21" x2="461.8" y2="399.01" stroke="#999" stroke-width="1.2" />
<line x1="431.5" y1="404.19" x2="452" y2="415.99" stroke="#999" stroke-width="1.2" />
<path d="M452.8,393.8 Q441.5,398.5 442.2,410.2" stroke="#999" stroke-width="1.1" fill="none" />
<path d="M454.1,394.5 Q442.8,399.2 443.5,411.0" stroke="#999" stroke-width="1.1" fill="none" />
<path d="M455.4,395.3 Q444.1,400.0 444.8,411.7" stroke="#999" stroke-width="1.1" fill="none" />
<path d="M456.7,396.0 Q445.4,400.8 446.1,412.5" stroke="#999" stroke-width="1.1" fill="none" />
<path d="M458.0,396.8 Q446.7,401.5 447.4,413.2" stroke="#999" stroke-width="1.1" fill="none" />
<path d="M459.3,397.5 Q448.0,402.2 448.7,414.0" stroke="#999" stroke-width="1.1" fill="none" />
<path d="M460.6,398.3 Q449.3,403.0 450.0,414.7" stroke="#999" stroke-width="1.1" fill="none" />
<ellipse cx="456.9" cy="407.5" rx="5.6" ry="9.8" stroke="#999" stroke-width="1.3" fill="#fff" transform="rotate(30 456.9 407.5)" />
<ellipse cx="457.2" cy="407.8" rx="2.9" ry="4.8" stroke="#999" stroke-width="1" fill="#fff" transform="rotate(30 457.2 407.8)" />
<line x1="454" y1="405.5" x2="460.5" y2="409.3" stroke="#555" stroke-width="0.9" />
<line x1="429" y1="392" x2="436" y2="396" stroke="#444" stroke-width="0.9" />
<ellipse cx="474" cy="416.8" rx="8.2" ry="14.3" stroke="#999" stroke-width="1.3" fill="#fff" transform="rotate(30 474 416.8)" />
<path d="M481.15,404.42 L498.95,414.82 L484.65,439.58 L466.85,429.18 Z" stroke="none" stroke-width="0" fill="#fff" />
<line x1="481.15" y1="404.42" x2="498.95" y2="414.82" stroke="#999" stroke-width="1.3" />
<line x1="466.85" y1="429.18" x2="484.65" y2="439.58" stroke="#999" stroke-width="1.3" />
<ellipse cx="491.8" cy="427.2" rx="8.2" ry="14.3" stroke="#999" stroke-width="1.3" fill="#fff" transform="rotate(30 491.8 427.2)" />
<ellipse cx="492.2" cy="427.5" rx="6.4" ry="12" stroke="#999" stroke-width="1.1" fill="#fff" transform="rotate(30 492.2 427.5)" />
<path d="M478,407 Q471,413 470.5,425" stroke="#aaa" stroke-width="0.9" fill="none" />
<path d="M493,419 L498.5,421.5 M487.5,433 L492.5,436" stroke="#999" stroke-width="1" fill="none" />
<line x1="462" y1="410" x2="466" y2="412.3" stroke="#444" stroke-width="0.9" />
</g>
<g id="cells">
<ellipse cx="198.7" cy="665.75" rx="8.76" ry="10.75" stroke="#8f8f8f" stroke-width="1" fill="#fff" transform="rotate(30 198.7 665.75)" />
<path d="M204.07,656.44 L218.88,664.99 L208.12,683.61 L193.32,675.06 Z" stroke="none" stroke-width="0" fill="#fff" />
<line x1="204.07" y1="656.44" x2="218.88" y2="664.99" stroke="#8f8f8f" stroke-width="1" />
<line x1="193.32" y1="675.06" x2="208.12" y2="683.61" stroke="#8f8f8f" stroke-width="1" />
<path d="M212.1,661.4 Q196.5,665.8 198.9,678.2" stroke="#aaa" stroke-width="1.1" fill="none" />
<path d="M213.3,662.1 Q197.7,666.5 200.1,678.9" stroke="#aaa" stroke-width="1.1" fill="none" />
<path d="M214.4,662.7 Q198.8,667.1 201.2,679.5" stroke="#aaa" stroke-width="1.1" fill="none" />
<path d="M215.6,663.4 Q200.0,667.8 202.4,680.2" stroke="#aaa" stroke-width="1.1" fill="none" />
<path d="M216.8,664.1 Q201.2,668.5 203.6,680.9" stroke="#aaa" stroke-width="1.1" fill="none" />
<path d="M217.9,664.7 Q202.3,669.1 204.7,681.5" stroke="#aaa" stroke-width="1.1" fill="none" />
<ellipse cx="213.5" cy="674.3" rx="8.76" ry="10.75" stroke="#8f8f8f" stroke-width="1.1" fill="#fff" transform="rotate(30 213.5 674.3)" />
<ellipse cx="213.8" cy="674.6" rx="6.3" ry="8.3" stroke="#aaa" stroke-width="0.9" fill="#fff" transform="rotate(30 213.8 674.6)" />
<ellipse cx="214" cy="674.8" rx="2.8" ry="3.6" stroke="#8f8f8f" stroke-width="0.9" fill="#fff" transform="rotate(30 214 674.8)" />
<ellipse cx="184.05" cy="692" rx="8.4" ry="13.8" stroke="#8f8f8f" stroke-width="1.1" fill="#fff" transform="rotate(30 184.05 692)" />
<path d="M190.95,680.05 L208.45,690.15 L194.65,714.05 L177.15,703.95 Z" stroke="none" stroke-width="0" fill="#fff" />
<line x1="190.95" y1="680.05" x2="208.45" y2="690.15" stroke="#8f8f8f" stroke-width="1.1" />
<line x1="177.15" y1="703.95" x2="194.65" y2="714.05" stroke="#8f8f8f" stroke-width="1.1" />
<ellipse cx="201.55" cy="702.1" rx="8.4" ry="13.8" stroke="#8f8f8f" stroke-width="1.2" fill="#fff" transform="rotate(30 201.55 702.1)" />
<ellipse cx="202" cy="702.4" rx="6.8" ry="11.8" stroke="#8f8f8f" stroke-width="1" fill="#fff" transform="rotate(30 202 702.4)" />
<path d="M203.5,692.5 L209,695 M197.5,708 L202.5,711" stroke="#8f8f8f" stroke-width="1" fill="none" />
<path d="M180,683.5 L183.5,685 M176,696 L179,697.5" stroke="#8f8f8f" stroke-width="0.9" fill="none" />
<line x1="247.6" y1="663.5" x2="247.6" y2="703.5" stroke="#222" stroke-width="1.3" />
<line x1="232.9" y1="665.5" x2="235.5" y2="663.5" stroke="#333" stroke-width="1.1" />
<line x1="233.2" y1="671.8" x2="241.8" y2="663.5" stroke="#333" stroke-width="1.1" />
<line x1="237.8" y1="674.7" x2="247.6" y2="664.9" stroke="#333" stroke-width="1.1" />
<line x1="244.4" y1="674.1" x2="247.6" y2="671.2" stroke="#333" stroke-width="1.1" />
<line x1="233.2" y1="697.7" x2="237.5" y2="693.1" stroke="#333" stroke-width="1.1" />
<line x1="233.5" y1="703.5" x2="245" y2="692" stroke="#333" stroke-width="1.1" />
<line x1="240.1" y1="703.5" x2="247.6" y2="696.3" stroke="#333" stroke-width="1.1" />
<path d="M228.7,677.2 Q228.7,675.9 230,675.9 L239.3,675.9 Q240.6,675.9 240.6,677.2 L240.6,689.6 Q240.6,690.9 239.3,690.9 L230,690.9 Q228.7,690.9 228.7,689.6 Z" stroke="#111" stroke-width="1.9" fill="#fff" />
<path d="M240.1,676.3 L247.6,676.3 L247.6,691.4 L240.1,691.4" stroke="#444" stroke-width="1" fill="#fff" />
<line x1="241" y1="676.5" x2="241" y2="691.2" stroke="#333" stroke-width="1.6" />
<path d="M241,677.8 L247.6,677.8 M241,689.9 L247.6,689.9" stroke="#555" stroke-width="1" fill="none" />
<path d="M247.9,675.3 L254.6,675.3 L254.6,691.6 L247.9,691.6" stroke="#333" stroke-width="1" fill="#fff" />
<path d="M254.6,675.5 Q254.6,674.2 256,674.2 L266.2,674.2 Q267.5,674.2 267.5,675.5 L267.5,691.3 Q267.5,692.6 266.2,692.6 L256,692.6 Q254.6,692.6 254.6,691.3 Z" stroke="#111" stroke-width="1.9" fill="#fff" />
<line x1="267.5" y1="683.4" x2="271.8" y2="683.4" stroke="#333" stroke-width="1" />
<path d="M272.1,672.9 L292.6,672.9 L292.6,693.9 L272.1,693.9 Z" stroke="#9a9a9a" stroke-width="1.1" fill="#fff" />
<path d="M292.6,674.7 L299,674.7 L299,692.5 L292.6,692.5 Z" stroke="#9a9a9a" stroke-width="1.1" fill="#fff" />
<line x1="272.1" y1="659.8" x2="272.1" y2="672.6" stroke="#333" stroke-width="1" />
<line x1="293.6" y1="659.8" x2="293.6" y2="672.6" stroke="#333" stroke-width="1" />
<line x1="259" y1="662.9" x2="271.5" y2="662.9" stroke="#222" stroke-width="1" />
<path d="M266.5,661.2 L271.8,662.9 L266.5,664.6 Z" stroke="#222" stroke-width="0.5" fill="#222" />
<line x1="294.2" y1="662.9" x2="306.3" y2="662.9" stroke="#222" stroke-width="1" />
<path d="M299.4,661.2 L294,662.9 L299.4,664.6 Z" stroke="#222" stroke-width="0.5" fill="#222" />
<text x="274" y="668" font-size="10.8" fill="#111" text-anchor="start" >+30</text>
<path d="M311.2,687.6 C311.5,685.5 312.5,683.8 314.5,682.9 C316.5,682.2 318.5,682.6 320.3,683.9 L344.1,678.4 C345.5,677.5 347.5,677.4 350,677.6 C353.5,677.8 356.5,679.8 356.4,682.6 C356.2,685.5 353.5,687 350.8,686.9 C349.3,686.8 348,686.2 347.2,685.3 L320.8,690.3 C319.2,692.5 317.5,693.8 315.5,694.2 C313.8,694.6 312.3,694.8 311.4,694.5 C312.8,693.5 314.8,691.8 315.7,689.6 C315.5,688.4 314.8,687.7 314.2,687.5 Z" stroke="#999" stroke-width="1.1" fill="#fff" />
<ellipse cx="352.1" cy="682.3" rx="3.1" ry="3" stroke="#999" stroke-width="1.1" fill="#fff" />
<path d="M344.5,678.8 L345,684.8 M346.6,678.2 L347.2,685" stroke="#aaa" stroke-width="0.9" fill="none" />
<path d="M388.8,680 L388.8,688 Q389.5,694.8 401,694.8 Q412.5,694.8 413,688 L413,680 Z" stroke="#111" stroke-width="1.5" fill="#fff" />
<ellipse cx="400.9" cy="679.8" rx="12.1" ry="7.2" stroke="#111" stroke-width="1.6" fill="#fff" />
<ellipse cx="400.9" cy="681.3" rx="8.9" ry="4.8" stroke="#111" stroke-width="1.2" fill="#444" />
<path d="M392.5,682.5 Q396,687 401,687 Q406,687 409.5,682.5" stroke="#111" stroke-width="1.3" fill="none" />
<line x1="394" y1="686" x2="394.5" y2="693.5" stroke="#222" stroke-width="1" />
<line x1="408" y1="686" x2="407.5" y2="693.5" stroke="#222" stroke-width="1" />
<line x1="398" y1="688" x2="398" y2="694.5" stroke="#555" stroke-width="0.8" />
<line x1="404" y1="688" x2="404" y2="694.5" stroke="#555" stroke-width="0.8" />
<path d="M460.5,668 L460.5,703.5 Q461,708.8 470,708.8 Q479.3,708.8 479.8,703.5 L479.8,668 Z" stroke="#9a9a9a" stroke-width="1" fill="#fff" />
<ellipse cx="470" cy="666.5" rx="10.3" ry="4.5" stroke="#9a9a9a" stroke-width="1.2" fill="#fff" />
<ellipse cx="470" cy="668" rx="8.3" ry="3.2" stroke="#9a9a9a" stroke-width="1" fill="#fff" />
<path d="M459.8,672 Q470,677.5 480.3,672 L480.3,676.5 Q470,682 459.8,676.5" stroke="#9a9a9a" stroke-width="1" fill="none" />
<line x1="463.5" y1="672.5" x2="463.5" y2="680" stroke="#9a9a9a" stroke-width="0.9" />
<line x1="467.5" y1="672.5" x2="467.5" y2="680" stroke="#9a9a9a" stroke-width="0.9" />
<line x1="472.5" y1="672.5" x2="472.5" y2="680" stroke="#9a9a9a" stroke-width="0.9" />
<line x1="476.5" y1="672.5" x2="476.5" y2="680" stroke="#9a9a9a" stroke-width="0.9" />
<ellipse cx="463.8" cy="683.5" rx="1.7" ry="2.4" stroke="#9a9a9a" stroke-width="0.9" fill="none" />
<ellipse cx="464.8" cy="697.5" rx="1.9" ry="2.3" stroke="#9a9a9a" stroke-width="0.9" fill="none" />
<ellipse cx="476" cy="692" rx="2.6" ry="1.2" stroke="#888" stroke-width="1.1" fill="#bbb" transform="rotate(-20 476 692)" />
<ellipse cx="476.5" cy="684.5" rx="1.2" ry="0.8" stroke="#9a9a9a" stroke-width="0.8" fill="none" />
<ellipse cx="476.5" cy="698.8" rx="1.2" ry="0.8" stroke="#9a9a9a" stroke-width="0.8" fill="none" />
<path d="M460.5,702 Q470,707 479.8,702" stroke="#9a9a9a" stroke-width="1" fill="none" />
<line x1="465" y1="705.5" x2="465" y2="708.2" stroke="#9a9a9a" stroke-width="0.8" />
<line x1="475" y1="705.5" x2="475" y2="708.2" stroke="#9a9a9a" stroke-width="0.8" />
</g>
<g transform="translate(537.1,682.9) scale(1.185) translate(-525.5,-229)">
<path d="M510.1,224 L510.1,241.5 C510.3,245.5 517,247.6 525.5,247.6 C534,247.6 540.8,245.5 541,241.5 L541,224 Z" stroke="#111" stroke-width="1.5" fill="#2e2e2e" />
<path d="M510.8,229.3 C512.5,231.8 518.5,232.8 525.5,232.8 C532.5,232.8 538.5,231.8 540.3,229.3 L540.3,233 C538.5,235.8 532.5,236.8 525.5,236.8 C518.5,236.8 512.5,235.8 510.8,233 Z" stroke="none" stroke-width="0" fill="#fff" />
<path d="M511.5,238.3 C515,242.3 536,242.3 539.5,238.3" stroke="#999" stroke-width="0.7" fill="none" />
<path d="M511.5,239.9 C515,243.9 536,243.9 539.5,239.9" stroke="#999" stroke-width="0.7" fill="none" />
<path d="M511.5,241.5 C515,245.5 536,245.5 539.5,241.5" stroke="#999" stroke-width="0.7" fill="none" />
<path d="M511.5,243.1 C515,247.1 536,247.1 539.5,243.1" stroke="#999" stroke-width="0.7" fill="none" />
<path d="M511.5,244.7 C515,248.7 536,248.7 539.5,244.7" stroke="#999" stroke-width="0.7" fill="none" />
<ellipse cx="525.6" cy="219.2" rx="15.8" ry="8.9" stroke="#111" stroke-width="1.8" fill="#fff" />
<path d="M510,221 C511.5,226 518,228.4 525.6,228.4 C533.2,228.4 539.6,226 541.2,221" stroke="#111" stroke-width="1.3" fill="none" />
<path d="M513.8,218.5 L517,213.2 L525.5,211.6 L534.3,213 L538,218.8 L534.6,224.6 L525.6,226.3 L516.8,224.4 Z" stroke="#222" stroke-width="1.1" fill="#fff" />
<path d="M516.8,224.4 L518,222 M534.6,224.6 L533.5,222.3 M525.6,226.3 L525.6,223.2" stroke="#222" stroke-width="0.9" fill="none" />
<ellipse cx="525.2" cy="218.8" rx="9.1" ry="4.1" stroke="#111" stroke-width="1.5" fill="#fff" />
</g>
</svg></body></html>
